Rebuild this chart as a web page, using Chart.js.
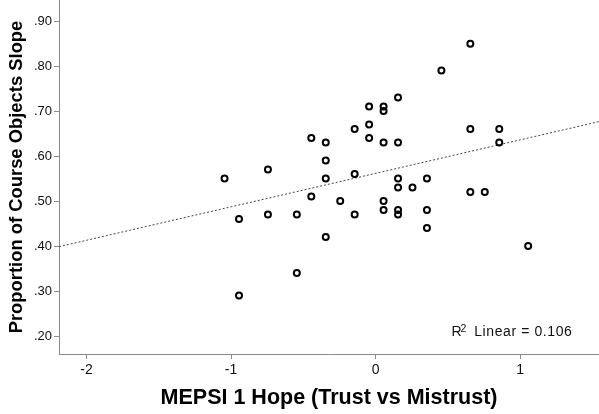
<!DOCTYPE html>
<html>
<head>
<meta charset="utf-8">
<title>Course Objects Slope vs MEPSI 1 Hope</title>
<script src="https://cdn.jsdelivr.net/npm/chart.js@4/dist/chart.umd.min.js"></script>
<style>
    html, body { margin: 0; padding: 0; background: #fff; }
    #wrap { width: 599px; height: 414px; }
</style>
</head>
<body>
<div id="wrap"><canvas id="scatterChart" width="599" height="414"></canvas></div>
<script>
// MEPSI 1 Hope score per participant
const hopeScores = [
    -1.045, -0.945, -0.945, -0.745, -0.745, -0.545, -0.545, -0.445, -0.445,
    -0.345, -0.345, -0.345, -0.345, -0.245, -0.145, -0.145, -0.145,
    -0.045, -0.045, -0.045, 0.055, 0.055, 0.055, 0.055, 0.055,
    0.155, 0.155, 0.155, 0.155, 0.155, 0.155, 0.255, 0.355, 0.355, 0.355,
    0.455, 0.655, 0.655, 0.655, 0.755, 0.855, 0.855, 1.055
];
// proportion of course objects slope, same order
const slopeValues = [
    0.55, 0.46, 0.29, 0.57, 0.47, 0.47, 0.34, 0.64, 0.51,
    0.63, 0.59, 0.55, 0.42, 0.50, 0.66, 0.56, 0.47,
    0.71, 0.67, 0.64, 0.71, 0.70, 0.63, 0.50, 0.48,
    0.73, 0.63, 0.55, 0.53, 0.48, 0.47, 0.53, 0.55, 0.48, 0.44,
    0.79, 0.85, 0.66, 0.52, 0.52, 0.66, 0.63, 0.40
];
const xTicks = [-2, -1, 0, 1];
const yTicks = [0.2, 0.3, 0.4, 0.5, 0.6, 0.7, 0.8, 0.9];
const xRange = [-2.19, 1.545];
const yRange = [0.16, 0.947];
const rSquaredText = "0.106";

// least squares fit line
const n = hopeScores.length;
const meanX = hopeScores.reduce((a, b) => a + b, 0) / n;
const meanY = slopeValues.reduce((a, b) => a + b, 0) / n;
let sxy = 0, sxx = 0;
hopeScores.forEach((x, i) => {
    sxy += (x - meanX) * (slopeValues[i] - meanY);
    sxx += (x - meanX) * (x - meanX);
});
const slope = sxy / sxx;
const intercept = meanY - slope * meanX;
const fitLine = xRange.map(x => ({ x: x, y: intercept + slope * x }));

const points = hopeScores.map((x, i) => ({ x: x, y: slopeValues[i] }));

const axisGray = "#8a8a8a";
const fontFamily = "Arial, 'Liberation Sans', sans-serif";

// R² Linear note in the lower right corner
const rSquaredLabel = {
    id: "rSquaredLabel",
    afterDatasetsDraw(chart) {
        const ctx = chart.ctx;
        const area = chart.chartArea;
        const rest = "Linear = " + rSquaredText;
        ctx.save();
        ctx.fillStyle = "#111";
        ctx.textBaseline = "alphabetic";
        ctx.font = "14px " + fontFamily;
        ctx.letterSpacing = "0.6px";
        const restWidth = ctx.measureText(rest).width;
        const baseY = area.bottom - 18;
        const restX = area.right - 26.5 - restWidth;
        ctx.fillText(rest, restX, baseY);
        ctx.fillText("R", restX - 22.7, baseY);
        ctx.letterSpacing = "0px";
        ctx.font = "10.5px " + fontFamily;
        ctx.fillText("2", restX - 13.6, baseY - 4.5);
        ctx.restore();
    }
};

new Chart("scatterChart", {
    type: "scatter",
    data: {
        datasets: [
            {
                label: "Fit",
                type: "line",
                data: fitLine,
                borderColor: "#444",
                borderWidth: 1,
                borderDash: [2, 2],
                pointRadius: 0,
                fill: false,
                order: 2
            },
            {
                label: "Participants",
                data: points,
                pointRadius: 3,
                pointBorderWidth: 2,
                borderColor: "#000",
                backgroundColor: "rgba(0,0,0,0)",
                order: 1
            }
        ]
    },
    options: {
        responsive: false,
        animation: false,
        layout: { padding: 0, autoPadding: false },
        plugins: {
            legend: { display: false },
            tooltip: { enabled: false }
        },
        scales: {
            x: {
                type: "linear",
                min: xRange[0],
                max: xRange[1],
                afterBuildTicks: scale => { scale.ticks = xTicks.map(v => ({ value: v })); },
                afterFit: scale => {
                    scale.height = 60;
                    scale.paddingLeft = 0;
                    scale.paddingRight = 0;
                },
                grid: {
                    drawOnChartArea: false,
                    drawTicks: true,
                    tickLength: 5,
                    tickColor: axisGray
                },
                border: { color: axisGray, width: 1 },
                ticks: {
                    padding: 3,
                    color: "#111",
                    font: { family: fontFamily, size: 14 },
                    callback: v => String(v)
                },
                title: {
                    display: true,
                    text: "MEPSI 1 Hope (Trust vs Mistrust)",
                    color: "#000",
                    font: { family: fontFamily, size: 21.5, weight: "bold" },
                    padding: { top: 0, bottom: 3 }
                }
            },
            y: {
                type: "linear",
                min: yRange[0],
                max: yRange[1],
                afterBuildTicks: scale => { scale.ticks = yTicks.map(v => ({ value: v })); },
                afterFit: scale => {
                    scale.width = 59;
                    scale.paddingTop = 0;
                    scale.paddingBottom = 0;
                },
                grid: {
                    drawOnChartArea: false,
                    drawTicks: true,
                    tickLength: 5,
                    tickColor: axisGray
                },
                border: { color: axisGray, width: 1 },
                ticks: {
                    padding: 2,
                    color: "#111",
                    font: { family: fontFamily, size: 13 },
                    callback: v => v.toFixed(2).replace(/^0/, "")
                },
                title: {
                    display: true,
                    text: "Proportion of Course Objects Slope",
                    color: "#000",
                    font: { family: fontFamily, size: 18.4, weight: "bold" },
                    padding: { top: 6, bottom: 0 }
                }
            }
        }
    },
    plugins: [rSquaredLabel]
});
</script>
</body>
</html>
